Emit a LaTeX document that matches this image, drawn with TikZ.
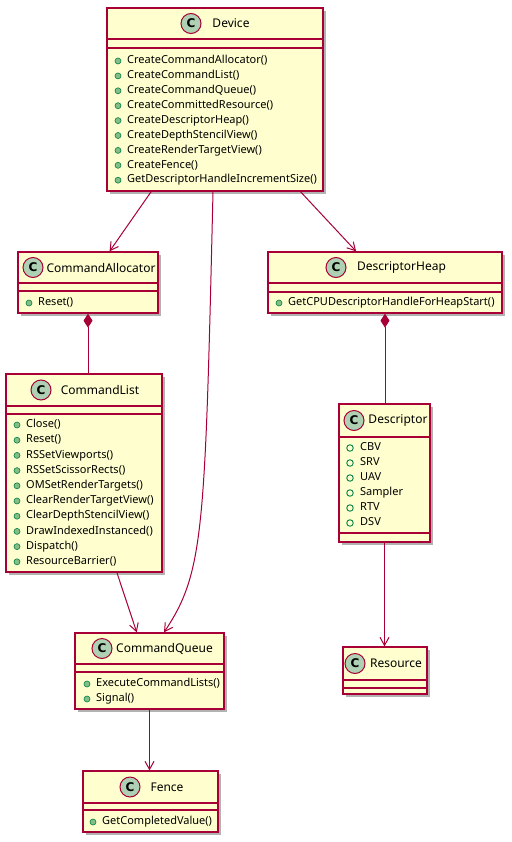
\documentclass[tikz,border=0pt]{standalone}
\usepackage{fontspec}
\setmainfont{Noto Sans}
\newfontfamily\iconfont{DejaVu Sans}
\usetikzlibrary{arrows.meta,shadows,fit,calc}
\definecolor{umlfill}{HTML}{FEFECE}
\definecolor{umlline}{HTML}{A80036}
\definecolor{umlicon}{HTML}{ADD1B2}
\definecolor{pubfill}{HTML}{84BE84}
\definecolor{publine}{HTML}{038048}
\tikzset{
  cbox/.style={draw=umlline, fill=umlfill, line width=1.3bp, inner sep=0pt,
    drop shadow={shadow xshift=3bp, shadow yshift=-3bp, opacity=0.3, fill=black}},
  sepl/.style={draw=umlline, line width=1.3bp},
  cicon/.style={circle, draw=umlline, fill=umlicon, line width=1bp, minimum size=20bp,
    inner sep=0pt, font=\iconfont\bfseries\fontsize{12bp}{12bp}\selectfont},
  ctitle/.style={inner sep=0pt, font=\fontsize{12bp}{14bp}\selectfont},
  mtext/.style={inner sep=0pt, anchor=west, text height=8bp, text depth=2.5bp,
    font=\fontsize{11bp}{12bp}\selectfont},
  pubdot/.style={circle, draw=publine, fill=pubfill, line width=0.6bp, minimum size=6bp, inner sep=0pt},
  pubfield/.style={circle, draw=publine, fill=none, line width=0.9bp, minimum size=6.5bp, inner sep=0pt},
  assoc/.style={draw=umlline, line width=1bp, -{Straight Barb[length=8bp,width=9bp,line width=1bp]}},
  comp/.style={draw=umlline, line width=1bp, {Diamond[length=14bp,width=9bp,fill=umlline]}-}
}
\newcommand{\umlclass}[8]{%
  \node[cbox, fit={(#2,#3) (#4,#5)}] (#1) {};
  \draw[sepl] (#2,#6) -- (#4,#6);
  \draw[sepl] (#2,#7) -- (#4,#7);
  \node[cicon] (#1-icon) at (#8,{(#3+#6)/2}) {C};
}
\newcommand{\pubm}[4]{%
  \node[pubdot] (#1-b) at (#2,{#4}) {};
  \node[mtext] (#1) at ({#2+9},{#4}) {#3};
}
\newcommand{\pubf}[4]{%
  \node[pubfield] (#1-b) at (#2,{#4}) {};
  \node[mtext] (#1) at ({#2+10},{#4}) {#3};
}
\begin{document}
\begin{tikzpicture}[x=1bp,y=-1bp]
\useasboundingbox (0,0) rectangle (512,842);
\fill[white] (0,0) rectangle (512,842);

% Device
\umlclass{dev}{107}{8}{323}{191}{39}{48}{191}
\node[ctitle] (dev-title) at (231,23.5) {Device};
\foreach \t [count=\i] in {CreateCommandAllocator(),CreateCommandList(),CreateCommandQueue(),CreateCommittedResource(),CreateDescriptorHeap(),CreateDepthStencilView(),CreateRenderTargetView(),CreateFence(),GetDescriptorHandleIncrementSize()}
  {\pubm{dev-m\i}{118}{\t}{61+14.9*(\i-1)}}

% CommandAllocator
\umlclass{calloc}{18}{252}{158}{313}{283}{291}{33}
\node[ctitle] (calloc-title) at (101,267.5) {CommandAllocator};
\pubm{calloc-m1}{29}{Reset()}{303}

% CommandList
\umlclass{clist}{6}{374}{162}{572}{406}{414}{41}
\node[ctitle] (clist-title) at (100,390) {CommandList};
\foreach \t [count=\i] in {Close(),Reset(),RSSetViewports(),RSSetScissorRects(),OMSetRenderTargets(),ClearRenderTargetView(),ClearDepthStencilView(),DrawIndexedInstanced(),Dispatch(),ResourceBarrier()}
  {\pubm{clist-m\i}{17}{\t}{425+15.2*(\i-1)}}

% DescriptorHeap
\umlclass{dheap}{268}{252}{502}{313}{283}{292}{336}
\node[ctitle] (dheap-title) at (401.5,267.5) {DescriptorHeap};
\pubm{dheap-m1}{279}{GetCPUDescriptorHandleForHeapStart()}{303}

% Descriptor
\umlclass{desc}{339}{404}{430}{542}{437}{533}{354}
\node[ctitle] (desc-title) at (398,420.5) {Descriptor};
\foreach \t [count=\i] in {CBV,SRV,UAV,Sampler,RTV,DSV}
  {\pubf{desc-f\i}{350}{\t}{448+15*(\i-1)}}

% Resource
\umlclass{res}{343}{647}{427}{694}{680}{688}{355}
\node[ctitle] (res-title) at (396,663.5) {Resource};

% CommandQueue
\umlclass{cq}{75}{633}{224}{709}{664}{672}{102}
\node[ctitle] (cq-title) at (164.5,648.5) {CommandQueue};
\pubm{cq-m1}{87}{ExecuteCommandLists()}{684}
\pubm{cq-m2}{87}{Signal()}{699}

% Fence
\umlclass{fence}{83}{771}{218}{832}{803}{810}{130}
\node[ctitle] (fence-title) at (167,787) {Fence};
\pubm{fence-m1}{93}{GetCompletedValue()}{822}

% connectors
\draw[assoc] (dev) -- (calloc);
\draw[assoc] (dev) -- (dheap);
\draw[assoc] ([xshift=-2bp]dev.south) .. controls +(-8,340) and +(40,-60) .. ([xshift=14.5bp]cq.north);
\draw[comp] (calloc.south) -- (calloc.south |- clist.north);
\draw[comp] (dheap.south) -- (dheap.south |- desc.north);
\draw[assoc] (desc.south) -- (desc.south |- res.north);
\draw[assoc] (clist) -- (cq);
\draw[assoc] (cq.south) -- (cq.south |- fence.north);
\end{tikzpicture}
\end{document}
